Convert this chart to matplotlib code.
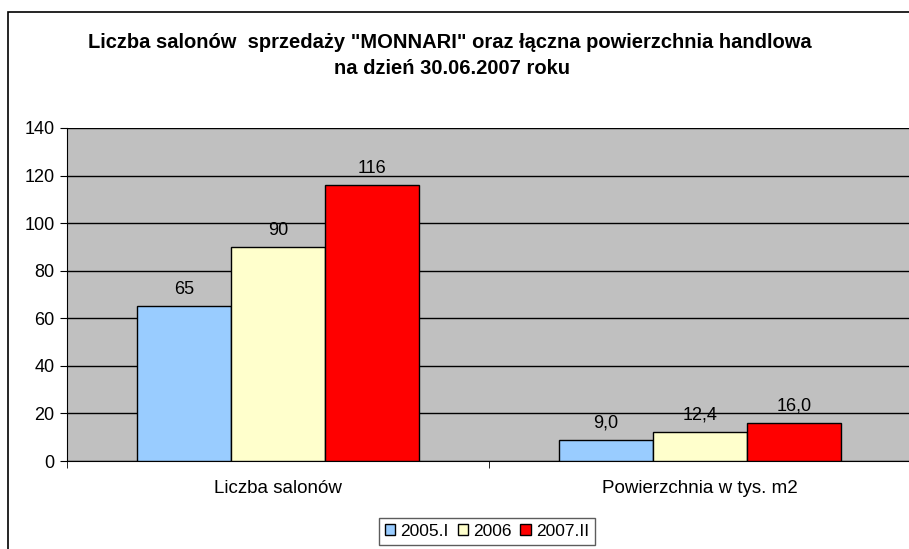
import numpy as np
import matplotlib.pyplot as plt
from matplotlib.patches import Rectangle

categories = ["Liczba salonów", "Powierzchnia w tys. m2"]
series = ["2005.I", "2006", "2007.II"]
values = [[65, 9.0], [90, 12.4], [116, 16.0]]
labels = [["65", "9,0"], ["90", "12,4"], ["116", "16,0"]]
colors = ["#99CCFF", "#FFFFCC", "#FF0000"]

plt.rcParams['font.family'] = ['Liberation Sans', 'DejaVu Sans']

fig = plt.figure(figsize=(9.09, 5.49), dpi=100)
fig.patches.append(Rectangle((8 / 909, -0.1), 1.2, 1 - 12 / 549 + 0.1,
                             transform=fig.transFigure, fill=False,
                             edgecolor="black", linewidth=1.2, zorder=0))

ax = fig.add_axes([67 / 909, 1 - 461 / 549, 1 - 67 / 909 + 0.002, (461 - 128) / 549])
ax.set_facecolor("#C0C0C0")

x = np.arange(len(categories)) + 0.5
w = 94 / 421
for i in range(len(series)):
    pos = x + (i - 1) * w
    ax.bar(pos, values[i], width=w, color=colors[i], edgecolor="black",
           linewidth=1, label=series[i], zorder=3)
    for p, v, t in zip(pos, values[i], labels[i]):
        ax.annotate(t, (p, v), xytext=(0, 6), textcoords="offset points",
                    ha="center", va="bottom", fontsize=13, zorder=4)

ax.set_xlim(0, 2)
ax.set_ylim(0, 140)
ax.set_yticks(range(0, 141, 20))
ax.yaxis.grid(True, color="black", linewidth=1)
ax.set_axisbelow(True)
ax.set_xticks(x)
ax.set_xticklabels(categories, fontsize=13.5)
ax.set_xticks([0, 1, 2], minor=True)
ax.tick_params(axis="x", which="major", length=0, pad=14)
ax.tick_params(axis="x", which="minor", length=5, direction="out")
ax.tick_params(axis="y", labelsize=13, length=5, direction="out", pad=4)
for s in ["top", "right"]:
    ax.spines[s].set_visible(False)
ax.spines["left"].set_color("black")
ax.spines["bottom"].set_color("black")

fig.text(450 / 909, 1 - 42 / 549, 'Liczba salonów  sprzedaży "MONNARI" oraz łączna powierzchnia handlowa',
         ha="center", va="center", fontsize=14.5, fontweight="bold")
fig.text(452 / 909, 1 - 68 / 549, 'na dzień 30.06.2007 roku',
         ha="center", va="center", fontsize=14.5, fontweight="bold")

leg = fig.legend(loc="upper center", bbox_to_anchor=(487 / 909, 1 - 518 / 549), ncol=3,
                 fontsize=12.5, frameon=True, fancybox=False, edgecolor="#333333",
                 handlelength=0.6, handleheight=0.6, handletextpad=0.3,
                 columnspacing=0.5, borderpad=0.35, borderaxespad=0)
leg.get_frame().set_linewidth(1)

fig.savefig("out.png", dpi=100)
